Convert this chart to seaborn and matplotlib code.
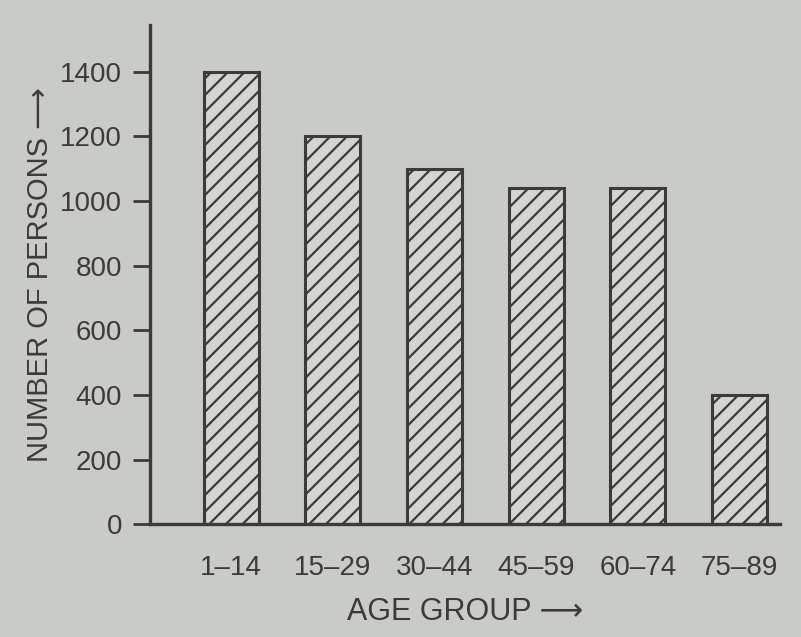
import matplotlib
matplotlib.use("Agg")
import matplotlib.pyplot as plt
import seaborn as sns
import pandas as pd

# values
age_groups = ["1\u201314", "15\u201329", "30\u201344", "45\u201359", "60\u201374", "75\u201389"]
persons = [1400, 1200, 1100, 1040, 1040, 400]
y_ticks = [0, 200, 400, 600, 800, 1000, 1200, 1400]

paper = "#c9cbc6"
ink = "#3b3b3b"


def plot_age_groups(groups, counts):  # hatched bar chart in textbook style
    sns.set_style("white")
    plt.rcParams['font.family'] = ['Liberation Sans', 'DejaVu Sans']
    plt.rcParams['hatch.linewidth'] = 1.6
    plt.rcParams['hatch.color'] = ink

    df = pd.DataFrame({"group": groups, "persons": counts})

    fig = plt.figure(figsize=(8.01, 6.37), dpi=100, facecolor=paper)
    ax = fig.add_axes([0.187, 0.177, 0.787, 0.784])
    ax.set_facecolor(paper)

    sns.barplot(data=df, x="group", y="persons", ax=ax, width=0.54,
                color="#d3d5d0", edgecolor=ink, linewidth=2.2, hatch="//",
                saturation=1)

    ax.set_xlim(-0.8, 5.4)
    ax.set_ylim(0, 1545)
    ax.set_yticks(y_ticks)
    ax.set_yticklabels([str(t) for t in y_ticks], fontsize=20, color=ink)
    ax.tick_params(axis="y", direction="out", length=12, width=2, color=ink, pad=8, left=True)
    ax.tick_params(axis="x", length=0, pad=22, labelsize=20, labelcolor=ink)

    sns.despine(ax=ax)
    for side in ["left", "bottom"]:
        ax.spines[side].set_color(ink)
        ax.spines[side].set_linewidth(2.4)

    ax.set_xlabel("AGE GROUP \u27f6", fontsize=22, color=ink, labelpad=12)
    ax.set_ylabel("NUMBER OF PERSONS \u27f6", fontsize=21, color=ink, labelpad=4)

    fig.savefig("out.png", dpi=100, facecolor=paper)


def main():
    plot_age_groups(age_groups, persons)


if __name__ == "__main__":
    main()
